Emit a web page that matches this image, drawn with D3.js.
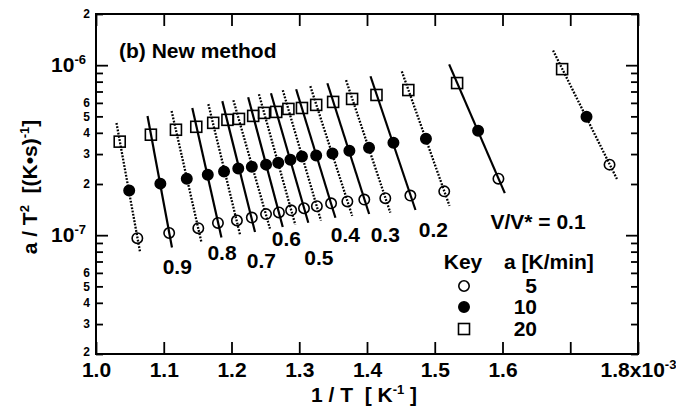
<!DOCTYPE html>
<html>
<head>
<meta charset="utf-8">
<script src="https://cdn.jsdelivr.net/npm/d3@7"></script>
<style>
    body { margin: 0; background: #fff; }
    svg { font-family: "Liberation Sans", Arial, sans-serif; font-weight: bold; }
    text { fill: #000; }
</style>
</head>
<body>
<svg id="chart" width="676" height="416"></svg>
<script>
// Iso-conversion levels V/V*, one fitted line each.
const vRatio = [0.95, 0.9, 0.85, 0.8, 0.75, 0.7, 0.65, 0.6, 0.55, 0.5,
    0.45, 0.4, 0.35, 0.3, 0.25, 0.2, 0.15, 0.1, 0.05];

// a = 5 K/min (open circles).
const invT5 = [1.061, 1.108, 1.151, 1.180, 1.208, 1.230, 1.251, 1.270, 1.288, 1.307,
    1.326, 1.347, 1.371, 1.396, 1.427, 1.464, 1.514, 1.594, 1.758];
const rate5 = [0.96e-7, 1.03e-7, 1.10e-7, 1.18e-7, 1.22e-7, 1.27e-7, 1.33e-7, 1.36e-7, 1.40e-7, 1.44e-7,
    1.48e-7, 1.54e-7, 1.58e-7, 1.62e-7, 1.65e-7, 1.71e-7, 1.81e-7, 2.15e-7, 2.60e-7];

// a = 10 K/min (filled circles).
const invT10 = [1.049, 1.095, 1.134, 1.165, 1.189, 1.210, 1.230, 1.251, 1.269, 1.287,
    1.304, 1.325, 1.349, 1.374, 1.403, 1.439, 1.487, 1.564, 1.724];
const rate10 = [1.83e-7, 2.01e-7, 2.15e-7, 2.27e-7, 2.37e-7, 2.47e-7, 2.53e-7, 2.60e-7, 2.67e-7, 2.78e-7,
    2.90e-7, 2.94e-7, 3.02e-7, 3.14e-7, 3.27e-7, 3.50e-7, 3.69e-7, 4.11e-7, 4.97e-7];

// a = 20 K/min (open squares).
const invT20 = [1.035, 1.081, 1.118, 1.148, 1.173, 1.194, 1.211, 1.232, 1.248, 1.266,
    1.284, 1.304, 1.325, 1.350, 1.378, 1.414, 1.461, 1.533, 1.688];
const rate20 = [3.55e-7, 3.90e-7, 4.17e-7, 4.34e-7, 4.58e-7, 4.77e-7, 4.83e-7, 5.03e-7, 5.24e-7, 5.31e-7,
    5.53e-7, 5.60e-7, 5.84e-7, 6.08e-7, 6.33e-7, 6.68e-7, 7.14e-7, 7.85e-7, 9.48e-7];

// Line labels, placed in data space.
const lineLabels = ['0.9', '0.8', '0.7', '0.6', '0.5', '0.4', '0.3', '0.2'];
const lineLabelX = [1.120, 1.186, 1.244, 1.281, 1.329, 1.368, 1.427, 1.498];
const lineLabelY = [0.65e-7, 0.785e-7, 0.705e-7, 0.948e-7, 0.734e-7, 1.013e-7, 1.013e-7, 1.084e-7];

// Ticks.
const xTicks = [1.0, 1.1, 1.2, 1.3, 1.4, 1.5, 1.6, 1.7, 1.8];
const xLabelled = [1.0, 1.1, 1.2, 1.3, 1.4, 1.5, 1.6, 1.8];
const yMajor = [1e-6, 1e-7];
const yMinor = [2e-8, 3e-8, 4e-8, 5e-8, 6e-8, 7e-8, 8e-8, 9e-8,
    2e-7, 3e-7, 4e-7, 5e-7, 6e-7, 7e-7, 8e-7, 9e-7, 2e-6];
const yMinorLabelled = [2, 3, 4, 5, 6];

const rates = ['5', '10', '20'];

// Layout.
const X0 = 96, X1 = 638, Y0 = 14, Y1 = 354;
const MAJOR = 12, MINOR = 7;
const R = 5.2, SQ = 11;
const EXT_TOP = 0.11, EXT_BOT = 0.085;
const FS = 21;

const svg = d3.select('#chart');
const x = d3.scaleLinear().domain([1.0, 1.8]).range([X0, X1]);
const y = d3.scaleLog().domain([2e-8, 2e-6]).range([Y1, Y0]);

const styleAxis = g => {
    g.select('.domain').remove();
    g.selectAll('.tick line').attr('stroke', '#000').attr('stroke-width', 1.8);
    g.selectAll('text').attr('font-family', null).attr('fill', '#000');
};

// Bottom axis.
const gx = svg.append('g')
    .attr('transform', `translate(0,${Y1})`)
    .call(d3.axisBottom(x).tickValues(xTicks).tickSize(-MAJOR).tickPadding(8)
        .tickFormat(d => xLabelled.includes(d) ? d3.format('.1f')(d) : ''))
    .call(styleAxis);
gx.selectAll('text').attr('font-size', FS);
gx.selectAll('.tick text').filter(d => d === 1.8).each(function () {
    const t = d3.select(this).text('1.8x10');
    t.append('tspan').attr('dy', -8).attr('font-size', 13).text('-3');
});
// Top axis.
svg.append('g')
    .attr('transform', `translate(0,${Y0})`)
    .call(d3.axisTop(x).tickValues(xTicks).tickSize(-MAJOR).tickFormat(''))
    .call(styleAxis);

// Left axis: majors then minors.
const gyMaj = svg.append('g')
    .attr('transform', `translate(${X0},0)`)
    .call(d3.axisLeft(y).tickValues(yMajor).tickSize(-MAJOR).tickPadding(10).tickFormat(''))
    .call(styleAxis);
gyMaj.selectAll('.tick text').each(function (d) {
    const t = d3.select(this).attr('font-size', FS);
    t.append('tspan').text('10');
    t.append('tspan').attr('dy', -8).attr('font-size', 13).text(Math.round(Math.log10(d)));
});
const gyMin = svg.append('g')
    .attr('transform', `translate(${X0},0)`)
    .call(d3.axisLeft(y).tickValues(yMinor).tickSize(-MINOR).tickPadding(6)
        .tickFormat(d => {
            const m = Math.round(d / Math.pow(10, Math.floor(Math.log10(d) + 1e-9)));
            return yMinorLabelled.includes(m) ? String(m) : '';
        }))
    .call(styleAxis);
gyMin.selectAll('text').attr('font-size', 12);
gyMin.selectAll('.tick text').filter(d => d === 2e-8).attr('dy', '0.1em');

// Right axis.
svg.append('g')
    .attr('transform', `translate(${X1},0)`)
    .call(d3.axisRight(y).tickValues(yMajor).tickSize(-MAJOR).tickFormat(''))
    .call(styleAxis);
svg.append('g')
    .attr('transform', `translate(${X1},0)`)
    .call(d3.axisRight(y).tickValues(yMinor).tickSize(-MINOR).tickFormat(''))
    .call(styleAxis);

// Frame.
svg.append('rect')
    .attr('x', X0).attr('y', Y0)
    .attr('width', X1 - X0).attr('height', Y1 - Y0)
    .attr('fill', 'none').attr('stroke', '#000').attr('stroke-width', 2);

// Fitted lines: 1/T linear in log(a/T^2).
const line = d3.line().x(d => x(d[0])).y(d => y(d[1]));
vRatio.forEach((v, i) => {
    const pts = [[invT20[i], rate20[i]], [invT10[i], rate10[i]], [invT5[i], rate5[i]]]
        .map(p => [p[0], Math.log10(p[1])]);
    const my = d3.mean(pts, p => p[1]);
    const mx = d3.mean(pts, p => p[0]);
    const b = d3.sum(pts, p => (p[1] - my) * (p[0] - mx)) / d3.sum(pts, p => (p[1] - my) ** 2);
    const a = mx - b * my;
    const ends = [pts[0][1] + EXT_TOP, pts[2][1] - EXT_BOT].map(ly => [a + b * ly, Math.pow(10, ly)]);
    const solid = i % 2 === 1;
    svg.append('path')
        .attr('d', line(ends))
        .attr('fill', 'none')
        .attr('stroke', '#000')
        .attr('stroke-width', solid ? 2.2 : 2.3)
        .attr('stroke-dasharray', solid ? null : '1.8,1.5');
});

// Markers.
const circleMark = (g, cx, cy, filled) => g.append('circle')
    .attr('cx', cx).attr('cy', cy).attr('r', R)
    .attr('fill', filled ? '#000' : 'none')
    .attr('stroke', '#000').attr('stroke-width', 1.6);
const squareMark = (g, cx, cy) => g.append('rect')
    .attr('x', cx - SQ / 2).attr('y', cy - SQ / 2)
    .attr('width', SQ).attr('height', SQ)
    .attr('fill', 'none').attr('stroke', '#000').attr('stroke-width', 1.6);

const marks = svg.append('g');
vRatio.forEach((v, i) => {
    circleMark(marks, x(invT5[i]), y(rate5[i]), false);
    circleMark(marks, x(invT10[i]), y(rate10[i]), true);
    squareMark(marks, x(invT20[i]), y(rate20[i]));
});

// Line labels.
svg.append('g').selectAll('text')
    .data(lineLabels)
    .join('text')
    .attr('x', (d, i) => x(lineLabelX[i]))
    .attr('y', (d, i) => y(lineLabelY[i]))
    .attr('dy', '0.35em')
    .attr('text-anchor', 'middle')
    .attr('font-size', FS)
    .text(d => d);

// Annotations.
svg.append('text')
    .attr('x', 119).attr('y', 58)
    .attr('font-size', FS)
    .text('(b) New method');
svg.append('text')
    .attr('x', 538).attr('y', 229)
    .attr('text-anchor', 'middle')
    .attr('font-size', FS)
    .text('V/V* = 0.1');

// Legend.
const legend = svg.append('g');
legend.append('text').attr('x', 463).attr('y', 269).attr('text-anchor', 'middle')
    .attr('font-size', FS).text('Key');
legend.append('text').attr('x', 504).attr('y', 269)
    .attr('font-size', FS).text('a [K/min]');
const legY = [286, 307, 329];
circleMark(legend, 464, legY[0], false);
circleMark(legend, 464, legY[1], true);
squareMark(legend, 464, legY[2]);
legend.selectAll('text.rate')
    .data(rates)
    .join('text')
    .attr('class', 'rate')
    .attr('x', 537)
    .attr('y', (d, i) => legY[i])
    .attr('dy', '0.35em')
    .attr('text-anchor', 'end')
    .attr('font-size', FS)
    .text(d => d);

// Axis titles.
const xt = svg.append('text')
    .attr('x', 364).attr('y', 402)
    .attr('text-anchor', 'middle')
    .attr('font-size', FS)
    .style('white-space', 'pre');
xt.append('tspan').text('1 / T  [ K');
xt.append('tspan').attr('dy', -8).attr('font-size', 13).text('-1');
xt.append('tspan').attr('dy', 8).text(' ]');

const yt = svg.append('text')
    .attr('transform', 'translate(37,187) rotate(-90)')
    .attr('text-anchor', 'middle')
    .attr('font-size', FS)
    .style('white-space', 'pre');
yt.append('tspan').text('a / T');
yt.append('tspan').attr('dy', -8).attr('font-size', 13).text('2');
yt.append('tspan').attr('dy', 8).text('  [(K\u2022s)');
yt.append('tspan').attr('dy', -8).attr('font-size', 13).text('-1');
yt.append('tspan').attr('dy', 8).text(']');
// Keep the title at the reference's length.
const ytLen = yt.node().getComputedTextLength();
if (ytLen > 140) {
    const k = 137 / ytLen;
    yt.attr('font-size', FS * k);
    yt.selectAll('tspan').filter((d, i) => i % 2 === 1).attr('font-size', 13 * k);
}
</script>
</body>
</html>
